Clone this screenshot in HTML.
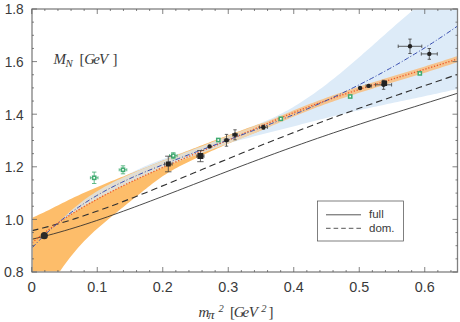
<!DOCTYPE html>
<html lang="en">
<head>
<meta charset="utf-8">
<title>Nucleon mass vs pion mass squared</title>
<style>
html,body{margin:0;padding:0;background:#fff;}
body{width:460px;height:322px;overflow:hidden;}
svg{display:block;}
</style>
</head>
<body>
<svg width="460" height="322" viewBox="0 0 460 322">
<rect width="460" height="322" fill="#fff"/>
<defs><clipPath id="clip"><rect x="32.50" y="9.50" width="424.50" height="262.00"/></clipPath></defs>
<defs><linearGradient id="tg" gradientUnits="userSpaceOnUse" x1="0" y1="0" x2="460" y2="0"><stop offset="0.467" stop-color="#e2ded2"/><stop offset="0.543" stop-color="#f0d3ad"/><stop offset="0.641" stop-color="#f5c48f"/></linearGradient></defs>
<g clip-path="url(#clip)">
<path d="M100.00 189.94 L102.64 188.52 L105.28 187.07 L107.92 185.60 L110.55 184.12 L113.19 182.63 L115.83 181.14 L118.47 179.65 L121.11 178.18 L123.75 176.73 L126.39 175.30 L129.03 173.90 L131.66 172.54 L134.30 171.21 L136.94 169.92 L139.58 168.67 L142.22 167.46 L144.86 166.28 L147.50 165.14 L150.13 164.03 L152.77 162.95 L155.41 161.91 L158.05 160.89 L160.69 159.91 L163.33 158.96 L165.97 158.03 L168.61 157.12 L171.24 156.22 L173.88 155.34 L176.52 154.46 L179.16 153.59 L181.80 152.71 L184.44 151.83 L187.08 150.93 L189.71 150.02 L192.35 149.08 L194.99 148.13 L197.63 147.15 L200.27 146.15 L202.91 145.14 L205.55 144.12 L208.18 143.09 L210.82 142.05 L213.46 141.01 L216.10 139.97 L218.74 138.94 L221.38 137.91 L224.02 136.89 L226.66 135.88 L229.29 134.89 L231.93 133.91 L234.57 132.93 L237.21 131.96 L239.85 130.99 L242.49 130.03 L245.13 129.05 L247.76 128.07 L250.40 127.08 L253.04 126.08 L255.68 125.06 L258.32 124.02 L260.96 122.95 L263.60 121.86 L266.24 120.75 L268.87 119.60 L271.51 118.41 L274.15 117.19 L276.79 115.92 L279.43 114.62 L282.07 113.26 L284.71 111.86 L287.34 110.42 L289.98 108.93 L292.62 107.39 L295.26 105.82 L297.90 104.20 L300.54 102.54 L303.18 100.85 L305.82 99.11 L308.45 97.34 L311.09 95.52 L313.73 93.68 L316.37 91.79 L319.01 89.87 L321.65 87.92 L324.29 85.93 L326.92 83.92 L329.56 81.87 L332.20 79.79 L334.84 77.68 L337.48 75.55 L340.12 73.39 L342.76 71.21 L345.39 69.01 L348.03 66.79 L350.67 64.54 L353.31 62.29 L355.95 60.01 L358.59 57.72 L361.23 55.42 L363.87 53.11 L366.50 50.79 L369.14 48.46 L371.78 46.13 L374.42 43.79 L377.06 41.45 L379.70 39.10 L382.34 36.76 L384.97 34.41 L387.61 32.07 L390.25 29.74 L392.89 27.40 L395.53 25.08 L398.17 22.77 L400.81 20.47 L403.45 18.17 L406.08 15.90 L408.72 13.63 L411.36 11.39 L414.00 9.16 L457.50 9.00 L457.50 88.98 L454.50 89.67 L451.49 90.35 L448.49 91.02 L445.48 91.69 L442.48 92.35 L439.47 93.01 L436.47 93.67 L433.47 94.32 L430.46 94.96 L427.46 95.61 L424.45 96.25 L421.45 96.88 L418.45 97.52 L415.44 98.15 L412.44 98.79 L409.43 99.42 L406.43 100.05 L403.42 100.68 L400.42 101.32 L397.42 101.95 L394.41 102.58 L391.41 103.22 L388.40 103.85 L385.40 104.49 L382.39 105.14 L379.39 105.78 L376.39 106.43 L373.38 107.08 L370.38 107.74 L367.37 108.40 L364.37 109.07 L361.37 109.74 L358.36 110.42 L355.36 111.10 L352.35 111.79 L349.35 112.49 L346.34 113.20 L343.34 113.91 L340.34 114.63 L337.33 115.35 L334.33 116.08 L331.32 116.81 L328.32 117.55 L325.32 118.29 L322.31 119.04 L319.31 119.79 L316.30 120.55 L313.30 121.31 L310.29 122.07 L307.29 122.83 L304.29 123.59 L301.28 124.36 L298.28 125.13 L295.27 125.90 L292.27 126.67 L289.26 127.44 L286.26 128.21 L283.26 128.98 L280.25 129.75 L277.25 130.52 L274.24 131.28 L271.24 132.05 L268.24 132.81 L265.23 133.58 L262.23 134.33 L259.22 135.10 L256.22 135.86 L253.21 136.62 L250.21 137.40 L247.21 138.18 L244.20 138.97 L241.20 139.78 L238.19 140.60 L235.19 141.44 L232.18 142.29 L229.18 143.17 L226.18 144.07 L223.17 144.99 L220.17 145.93 L217.16 146.89 L214.16 147.87 L211.16 148.86 L208.15 149.88 L205.15 150.91 L202.14 151.97 L199.14 153.04 L196.13 154.12 L193.13 155.22 L190.13 156.34 L187.12 157.48 L184.12 158.63 L181.11 159.79 L178.11 160.97 L175.11 162.16 L172.10 163.37 L169.10 164.59 L166.09 165.82 L163.09 167.06 L160.08 168.32 L157.08 169.58 L154.08 170.86 L151.07 172.15 L148.07 173.45 L145.06 174.76 L142.06 176.07 L139.05 177.40 L136.05 178.73 L133.05 180.08 L130.04 181.43 L127.04 182.79 L124.03 184.15 L121.03 185.52 L118.03 186.90 L115.02 188.28 L112.02 189.67 L109.01 191.06 L106.01 192.45 L103.00 193.85 L100.00 195.26 Z" fill="#ddebf8"/>
<path d="M32.10 217.75 L34.44 216.73 L36.77 215.69 L39.11 214.62 L41.45 213.52 L43.79 212.41 L46.12 211.28 L48.46 210.13 L50.80 208.97 L53.14 207.80 L55.47 206.62 L57.81 205.44 L60.15 204.26 L62.49 203.08 L64.82 201.90 L67.16 200.74 L69.50 199.58 L71.84 198.44 L74.17 197.32 L76.51 196.21 L78.85 195.13 L81.18 194.05 L83.52 193.00 L85.86 191.95 L88.20 190.92 L90.53 189.91 L92.87 188.90 L95.21 187.90 L97.55 186.91 L99.88 185.93 L102.22 184.96 L104.56 183.99 L106.90 183.02 L109.23 182.07 L111.57 181.11 L113.91 180.16 L116.25 179.22 L118.58 178.28 L120.92 177.34 L123.26 176.41 L125.59 175.47 L127.93 174.54 L130.27 173.61 L132.61 172.69 L134.94 171.76 L137.28 170.83 L139.62 169.91 L141.96 168.98 L144.29 168.05 L146.63 167.13 L148.97 166.20 L151.31 165.27 L153.64 164.34 L155.98 163.41 L158.32 162.48 L160.66 161.55 L162.99 160.62 L165.33 159.69 L167.67 158.76 L170.01 157.83 L172.34 156.90 L174.68 155.97 L177.02 155.04 L179.35 154.12 L181.69 153.19 L184.03 152.27 L186.37 151.35 L188.70 150.42 L191.04 149.51 L193.38 148.59 L195.72 147.67 L198.05 146.76 L200.39 145.85 L202.73 144.94 L205.07 144.04 L207.40 143.14 L209.74 142.24 L212.08 141.34 L214.42 140.45 L216.75 139.56 L219.09 138.67 L221.43 137.79 L223.76 136.91 L226.10 136.04 L228.44 135.16 L230.78 134.30 L233.11 133.44 L235.45 132.58 L237.79 131.72 L240.13 130.88 L242.46 130.03 L244.80 129.19 L247.14 128.36 L249.48 127.53 L251.81 126.71 L254.15 125.90 L256.49 125.08 L258.83 124.28 L261.16 123.48 L263.50 122.69 L263.50 129.55 L261.44 130.32 L259.38 131.09 L257.32 131.88 L255.26 132.67 L253.20 133.46 L251.14 134.27 L249.08 135.08 L247.02 135.90 L244.95 136.72 L242.89 137.55 L240.83 138.39 L238.77 139.24 L236.71 140.09 L234.65 140.95 L232.59 141.82 L230.53 142.69 L228.47 143.57 L226.41 144.45 L224.35 145.35 L222.29 146.24 L220.23 147.15 L218.17 148.06 L216.11 148.98 L214.05 149.90 L211.98 150.83 L209.92 151.76 L207.86 152.70 L205.80 153.65 L203.74 154.60 L201.68 155.56 L199.62 156.52 L197.56 157.49 L195.50 158.47 L193.44 159.45 L191.38 160.43 L189.32 161.43 L187.26 162.43 L185.20 163.44 L183.14 164.47 L181.08 165.52 L179.02 166.59 L176.95 167.68 L174.89 168.80 L172.83 169.96 L170.77 171.14 L168.71 172.37 L166.65 173.63 L164.59 174.94 L162.53 176.29 L160.47 177.69 L158.41 179.15 L156.35 180.65 L154.29 182.19 L152.23 183.77 L150.17 185.38 L148.11 187.01 L146.05 188.66 L143.98 190.31 L141.92 191.97 L139.86 193.63 L137.80 195.29 L135.74 196.95 L133.68 198.61 L131.62 200.27 L129.56 201.94 L127.50 203.60 L125.44 205.27 L123.38 206.94 L121.32 208.61 L119.26 210.29 L117.20 211.97 L115.14 213.65 L113.08 215.33 L111.02 217.02 L108.95 218.72 L106.89 220.42 L104.83 222.15 L102.77 223.88 L100.71 225.65 L98.65 227.44 L96.59 229.26 L94.53 231.12 L92.47 233.02 L90.41 234.97 L88.35 236.96 L86.29 239.01 L84.23 241.12 L82.17 243.28 L80.11 245.52 L78.05 247.82 L75.98 250.20 L73.92 252.65 L71.86 255.18 L69.80 257.79 L67.74 260.48 L65.68 263.25 L63.62 266.12 L61.56 269.07 L59.50 272.12 L32.10 272.00 Z" fill="#fdbd6a"/>
<path d="M60.00 221.37 L62.50 218.80 L65.00 216.31 L67.50 213.91 L70.00 211.60 L72.50 209.37 L75.00 207.22 L77.50 205.15 L80.00 203.15 L82.50 201.22 L85.00 199.36 L87.50 197.57 L90.00 195.83 L92.50 194.16 L95.00 192.55 L97.50 190.99 L100.00 189.48 L102.50 188.02 L105.00 186.61 L107.50 185.23 L110.00 183.90 L112.50 182.61 L115.00 181.35 L117.50 180.12 L120.00 178.93 L122.50 177.75 L125.00 176.61 L127.50 175.48 L130.00 174.37 L132.50 173.27 L135.00 172.19 L137.50 171.12 L140.00 170.07 L142.50 169.02 L145.00 167.99 L147.50 166.97 L150.00 165.96 L152.50 164.96 L155.00 163.97 L157.50 162.99 L160.00 162.01 L162.50 161.04 L165.00 160.08 L167.50 159.12 L170.00 158.17 L172.50 157.22 L175.00 156.27 L177.50 155.33 L180.00 154.39 L182.50 153.45 L185.00 152.52 L187.50 151.58 L190.00 150.64 L192.50 149.71 L195.00 148.77 L197.50 147.82 L200.00 146.88 L202.50 145.93 L205.00 144.98 L207.50 144.02 L210.00 143.06 L212.50 142.09 L215.00 141.12 L217.50 140.15 L220.00 139.18 L222.50 138.21 L225.00 137.24 L227.50 136.28 L230.00 135.32 L232.50 134.36 L235.00 133.41 L237.50 132.47 L240.00 131.54 L242.50 130.61 L245.00 129.69 L247.50 128.78 L250.00 127.86 L252.50 126.95 L255.00 126.02 L257.50 125.09 L260.00 124.15 L262.50 123.20 L265.00 122.23 L267.50 121.24 L270.00 120.23 L272.50 119.22 L275.00 118.19 L277.50 117.15 L280.00 116.11 L282.50 115.06 L285.00 114.01 L287.50 112.96 L290.00 111.92 L292.50 110.87 L295.00 109.84 L297.50 108.81 L300.00 107.79 L302.50 106.78 L305.00 105.79 L307.50 104.81 L310.00 103.84 L312.50 102.88 L315.00 101.93 L317.50 100.99 L320.00 100.07 L322.50 99.15 L325.00 98.24 L327.50 97.35 L330.00 96.46 L332.50 95.58 L335.00 94.71 L337.50 93.84 L340.00 92.99 L342.50 92.14 L345.00 91.30 L347.50 90.47 L350.00 89.64 L352.50 88.82 L355.00 88.01 L357.50 87.20 L360.00 86.39 L362.50 85.60 L365.00 84.80 L367.50 84.01 L370.00 83.23 L372.50 82.45 L375.00 81.67 L377.50 80.90 L380.00 80.13 L382.50 79.36 L385.00 78.59 L387.50 77.83 L390.00 77.07 L392.50 76.31 L395.00 75.55 L397.50 74.79 L400.00 74.03 L402.50 73.27 L405.00 72.51 L407.50 71.75 L410.00 70.99 L412.50 70.23 L415.00 69.47 L417.50 68.70 L420.00 67.94 L422.50 67.17 L425.00 66.40 L427.50 65.62 L430.00 64.85 L432.50 64.07 L435.00 63.28 L437.50 62.49 L440.00 61.70 L442.50 60.90 L445.00 60.10 L447.50 59.29 L450.00 58.47 L452.50 57.65 L455.00 56.83 L457.50 55.99 L457.50 62.15 L455.00 63.00 L452.50 63.84 L450.00 64.67 L447.50 65.49 L445.00 66.31 L442.50 67.12 L440.00 67.93 L437.50 68.73 L435.00 69.52 L432.50 70.31 L430.00 71.10 L427.50 71.88 L425.00 72.65 L422.50 73.42 L420.00 74.19 L417.50 74.96 L415.00 75.72 L412.50 76.48 L410.00 77.24 L407.50 78.00 L405.00 78.76 L402.50 79.51 L400.00 80.27 L397.50 81.02 L395.00 81.78 L392.50 82.53 L390.00 83.29 L387.50 84.04 L385.00 84.80 L382.50 85.56 L380.00 86.33 L377.50 87.09 L375.00 87.86 L372.50 88.63 L370.00 89.40 L367.50 90.18 L365.00 90.96 L362.50 91.75 L360.00 92.54 L357.50 93.34 L355.00 94.14 L352.50 94.95 L350.00 95.77 L347.50 96.59 L345.00 97.42 L342.50 98.25 L340.00 99.10 L337.50 99.95 L335.00 100.81 L332.50 101.68 L330.00 102.55 L327.50 103.44 L325.00 104.34 L322.50 105.24 L320.00 106.16 L317.50 107.09 L315.00 108.03 L312.50 108.98 L310.00 109.94 L307.50 110.92 L305.00 111.90 L302.50 112.90 L300.00 113.91 L297.50 114.94 L295.00 115.98 L292.50 117.03 L290.00 118.08 L287.50 119.15 L285.00 120.22 L282.50 121.29 L280.00 122.37 L277.50 123.45 L275.00 124.53 L272.50 125.60 L270.00 126.68 L267.50 127.74 L265.00 128.81 L262.50 129.86 L260.00 130.90 L257.50 131.94 L255.00 132.97 L252.50 133.99 L250.00 135.00 L247.50 136.00 L245.00 136.99 L242.50 137.98 L240.00 138.96 L237.50 139.93 L235.00 140.89 L232.50 141.85 L230.00 142.79 L227.50 143.73 L225.00 144.67 L222.50 145.59 L220.00 146.51 L217.50 147.43 L215.00 148.33 L212.50 149.23 L210.00 150.13 L207.50 151.01 L205.00 151.89 L202.50 152.77 L200.00 153.64 L197.50 154.51 L195.00 155.38 L192.50 156.26 L190.00 157.14 L187.50 158.02 L185.00 158.92 L182.50 159.82 L180.00 160.74 L177.50 161.67 L175.00 162.61 L172.50 163.58 L170.00 164.56 L167.50 165.57 L165.00 166.60 L162.50 167.64 L160.00 168.71 L157.50 169.79 L155.00 170.89 L152.50 172.00 L150.00 173.13 L147.50 174.27 L145.00 175.42 L142.50 176.58 L140.00 177.75 L137.50 178.93 L135.00 180.11 L132.50 181.30 L130.00 182.49 L127.50 183.68 L125.00 184.88 L122.50 186.08 L120.00 187.29 L117.50 188.51 L115.00 189.73 L112.50 190.97 L110.00 192.22 L107.50 193.48 L105.00 194.76 L102.50 196.05 L100.00 197.36 L97.50 198.69 L95.00 200.04 L92.50 201.42 L90.00 202.81 L87.50 204.23 L85.00 205.67 L82.50 207.14 L80.00 208.64 L77.50 210.17 L75.00 211.73 L72.50 213.33 L70.00 214.96 L67.50 216.62 L65.00 218.32 L62.50 220.05 L60.00 221.83 Z" fill="url(#tg)"/>
<path d="M32.00 239.22 L37.39 237.97 L42.77 236.65 L48.16 235.27 L53.54 233.83 L58.93 232.33 L64.32 230.78 L69.70 229.19 L75.09 227.54 L80.47 225.86 L85.86 224.13 L91.25 222.36 L96.63 220.56 L102.02 218.73 L107.41 216.86 L112.79 214.96 L118.18 213.04 L123.56 211.09 L128.95 209.12 L134.34 207.13 L139.72 205.12 L145.11 203.10 L150.49 201.06 L155.88 199.01 L161.27 196.95 L166.65 194.88 L172.04 192.80 L177.42 190.72 L182.81 188.63 L188.20 186.54 L193.58 184.45 L198.97 182.36 L204.35 180.27 L209.74 178.18 L215.13 176.10 L220.51 174.02 L225.90 171.95 L231.28 169.88 L236.67 167.83 L242.06 165.78 L247.44 163.74 L252.83 161.71 L258.22 159.69 L263.60 157.68 L268.99 155.69 L274.37 153.71 L279.76 151.74 L285.15 149.78 L290.53 147.84 L295.92 145.91 L301.30 144.00 L306.69 142.10 L312.08 140.21 L317.46 138.34 L322.85 136.49 L328.23 134.64 L333.62 132.81 L339.01 131.00 L344.39 129.20 L349.78 127.41 L355.16 125.63 L360.55 123.87 L365.94 122.12 L371.32 120.38 L376.71 118.65 L382.09 116.92 L387.48 115.21 L392.87 113.51 L398.25 111.81 L403.64 110.12 L409.03 108.43 L414.41 106.75 L419.80 105.07 L425.18 103.39 L430.57 101.71 L435.96 100.03 L441.34 98.34 L446.73 96.66 L452.11 94.96 L457.50 93.26" fill="none" stroke="#2a2a2a" stroke-width="0.85"/>
<path d="M32.00 230.63 L37.39 229.36 L42.77 228.02 L48.16 226.61 L53.54 225.13 L58.93 223.60 L64.32 222.00 L69.70 220.34 L75.09 218.64 L80.47 216.88 L85.86 215.08 L91.25 213.23 L96.63 211.34 L102.02 209.41 L107.41 207.45 L112.79 205.45 L118.18 203.42 L123.56 201.36 L128.95 199.28 L134.34 197.17 L139.72 195.05 L145.11 192.90 L150.49 190.73 L155.88 188.55 L161.27 186.36 L166.65 184.16 L172.04 181.94 L177.42 179.72 L182.81 177.50 L188.20 175.27 L193.58 173.03 L198.97 170.80 L204.35 168.56 L209.74 166.33 L215.13 164.10 L220.51 161.87 L225.90 159.65 L231.28 157.44 L236.67 155.23 L242.06 153.03 L247.44 150.84 L252.83 148.66 L258.22 146.49 L263.60 144.33 L268.99 142.19 L274.37 140.06 L279.76 137.94 L285.15 135.83 L290.53 133.74 L295.92 131.66 L301.30 129.60 L306.69 127.55 L312.08 125.51 L317.46 123.49 L322.85 121.48 L328.23 119.49 L333.62 117.51 L339.01 115.55 L344.39 113.60 L349.78 111.66 L355.16 109.74 L360.55 107.82 L365.94 105.92 L371.32 104.03 L376.71 102.15 L382.09 100.28 L387.48 98.41 L392.87 96.56 L398.25 94.71 L403.64 92.86 L409.03 91.02 L414.41 89.18 L419.80 87.34 L425.18 85.51 L430.57 83.67 L435.96 81.83 L441.34 79.98 L446.73 78.13 L452.11 76.27 L457.50 74.40" fill="none" stroke="#303030" stroke-width="1.12" stroke-dasharray="6.5 4"/>
<path d="M32.10 242.75 L35.67 239.74 L39.25 236.83 L42.82 234.01 L46.40 231.28 L49.97 228.63 L53.55 226.05 L57.12 223.55 L60.70 221.12 L64.27 218.75 L67.85 216.45 L71.42 214.19 L75.00 211.99 L78.57 209.83 L82.15 207.72 L85.72 205.64 L89.30 203.59 L92.87 201.58 L96.45 199.60 L100.02 197.65 L103.60 195.73 L107.17 193.84 L110.75 191.98 L114.32 190.14 L117.89 188.33 L121.47 186.55 L125.04 184.79 L128.62 183.05 L132.19 181.33 L135.77 179.64 L139.34 177.97 L142.92 176.31 L146.49 174.68 L150.07 173.06 L153.64 171.47 L157.22 169.88 L160.79 168.31 L164.37 166.76 L167.94 165.22 L171.52 163.69 L175.09 162.17 L178.67 160.66 L182.24 159.16 L185.82 157.67 L189.39 156.18 L192.97 154.70 L196.54 153.22 L200.12 151.75 L203.69 150.27 L207.26 148.80 L210.84 147.32 L214.41 145.85 L217.99 144.37 L221.56 142.88 L225.14 141.39 L228.71 139.89 L232.29 138.39 L235.86 136.88 L239.44 135.36 L243.01 133.84 L246.59 132.31 L250.16 130.78 L253.74 129.26 L257.31 127.73 L260.89 126.21 L264.46 124.69 L268.04 123.18 L271.61 121.67 L275.19 120.17 L278.76 118.69 L282.34 117.21 L285.91 115.75 L289.48 114.30 L293.06 112.87 L296.63 111.46 L300.21 110.06 L303.78 108.69 L307.36 107.33 L310.93 105.99 L314.51 104.68 L318.08 103.37 L321.66 102.09 L325.23 100.82 L328.81 99.57 L332.38 98.33 L335.96 97.11 L339.53 95.90 L343.11 94.70 L346.68 93.51 L350.26 92.34 L353.83 91.18 L357.41 90.02 L360.98 88.88 L364.56 87.74 L368.13 86.61 L371.71 85.49 L375.28 84.38 L378.85 83.27 L382.43 82.17 L386.00 81.07 L389.58 79.98 L393.15 78.88 L396.73 77.80 L400.30 76.71 L403.88 75.62 L407.45 74.54 L411.03 73.45 L414.60 72.36 L418.18 71.28 L421.75 70.18 L425.33 69.09 L428.90 67.99 L432.48 66.89 L436.05 65.78 L439.63 64.67 L443.20 63.55 L446.78 62.43 L450.35 61.29 L453.93 60.15 L457.50 59.00" fill="none" stroke="#ee5a2a" stroke-width="1.3" stroke-dasharray="1.3 1.7"/>
<path d="M32.10 247.83 L35.67 244.03 L39.25 240.35 L42.82 236.80 L46.40 233.37 L49.97 230.05 L53.55 226.84 L57.12 223.73 L60.70 220.74 L64.27 217.84 L67.85 215.04 L71.42 212.34 L75.00 209.72 L78.57 207.20 L82.15 204.76 L85.72 202.39 L89.30 200.11 L92.87 197.90 L96.45 195.76 L100.02 193.69 L103.60 191.69 L107.17 189.74 L110.75 187.85 L114.32 186.02 L117.89 184.23 L121.47 182.49 L125.04 180.80 L128.62 179.15 L132.19 177.53 L135.77 175.95 L139.34 174.40 L142.92 172.88 L146.49 171.38 L150.07 169.90 L153.64 168.44 L157.22 166.99 L160.79 165.55 L164.37 164.13 L167.94 162.72 L171.52 161.31 L175.09 159.92 L178.67 158.54 L182.24 157.17 L185.82 155.80 L189.39 154.44 L192.97 153.09 L196.54 151.74 L200.12 150.40 L203.69 149.06 L207.26 147.72 L210.84 146.39 L214.41 145.06 L217.99 143.73 L221.56 142.41 L225.14 141.08 L228.71 139.75 L232.29 138.42 L235.86 137.09 L239.44 135.75 L243.01 134.41 L246.59 133.07 L250.16 131.72 L253.74 130.37 L257.31 129.01 L260.89 127.64 L264.46 126.26 L268.04 124.88 L271.61 123.49 L275.19 122.08 L278.76 120.67 L282.34 119.24 L285.91 117.81 L289.48 116.36 L293.06 114.89 L296.63 113.41 L300.21 111.92 L303.78 110.41 L307.36 108.89 L310.93 107.34 L314.51 105.79 L318.08 104.21 L321.66 102.62 L325.23 101.01 L328.81 99.38 L332.38 97.73 L335.96 96.07 L339.53 94.39 L343.11 92.68 L346.68 90.96 L350.26 89.22 L353.83 87.45 L357.41 85.67 L360.98 83.87 L364.56 82.04 L368.13 80.19 L371.71 78.33 L375.28 76.43 L378.85 74.52 L382.43 72.58 L386.00 70.62 L389.58 68.64 L393.15 66.63 L396.73 64.60 L400.30 62.55 L403.88 60.47 L407.45 58.36 L411.03 56.23 L414.60 54.07 L418.18 51.89 L421.75 49.68 L425.33 47.44 L428.90 45.18 L432.48 42.89 L436.05 40.57 L439.63 38.23 L443.20 35.85 L446.78 33.45 L450.35 31.01 L453.93 28.55 L457.50 26.06" fill="none" stroke="#3a4fb0" stroke-width="1.0" stroke-dasharray="5 2 1 2"/>
<path d="M94.20 172.10 V183.50 M92.00 172.10 h4.4 M92.00 183.50 h4.4 M90.40 177.80 h7.6 M90.40 176.30 v3 M98.00 176.30 v3" stroke="#3fab70" stroke-width="0.8" fill="none"/>
<rect x="92.60" y="176.20" width="3.2" height="3.2" fill="#fff" stroke="#3fab70" stroke-width="1.5"/>
<path d="M123.00 165.80 V173.80 M120.80 165.80 h4.4 M120.80 173.80 h4.4 M119.20 169.80 h7.6 M119.20 168.30 v3 M126.80 168.30 v3" stroke="#3fab70" stroke-width="0.8" fill="none"/>
<rect x="121.40" y="168.20" width="3.2" height="3.2" fill="#fff" stroke="#3fab70" stroke-width="1.5"/>
<path d="M173.30 152.70 V158.70 M171.10 152.70 h4.4 M171.10 158.70 h4.4 M169.50 155.70 h7.6 M169.50 154.20 v3 M177.10 154.20 v3" stroke="#3fab70" stroke-width="0.8" fill="none"/>
<rect x="171.70" y="154.10" width="3.2" height="3.2" fill="#fff" stroke="#3fab70" stroke-width="1.5"/>
<rect x="216.70" y="138.40" width="3.2" height="3.2" fill="#fff" stroke="#3fab70" stroke-width="1.5"/>
<rect x="279.20" y="117.20" width="3.2" height="3.2" fill="#fff" stroke="#3fab70" stroke-width="1.5"/>
<rect x="348.60" y="94.90" width="3.2" height="3.2" fill="#fff" stroke="#3fab70" stroke-width="1.5"/>
<rect x="418.20" y="71.80" width="3.2" height="3.2" fill="#fff" stroke="#3fab70" stroke-width="1.5"/>
<circle cx="209.60" cy="146.40" r="2.2" fill="#222"/>
<path d="M226.50 134.40 V146.20 M224.80 134.40 h3.4 M224.80 146.20 h3.4 M224.30 140.30 H228.70 M224.30 138.60 v3.4 M228.70 138.60 v3.4 " stroke="#3c3c3c" stroke-width="0.8" fill="none"/>
<circle cx="226.50" cy="140.30" r="2.2" fill="#222"/>
<path d="M235.00 129.80 V139.80 M233.30 129.80 h3.4 M233.30 139.80 h3.4 M232.60 134.80 H237.40 M232.60 133.10 v3.4 M237.40 133.10 v3.4 " stroke="#3c3c3c" stroke-width="0.8" fill="none"/>
<circle cx="235.00" cy="134.80" r="2.2" fill="#222"/>
<path d="M263.40 125.20 V129.20 M261.70 125.20 h3.4 M261.70 129.20 h3.4 M259.40 127.20 H267.40 M259.40 125.50 v3.4 M267.40 125.50 v3.4 " stroke="#3c3c3c" stroke-width="0.8" fill="none"/>
<circle cx="263.40" cy="127.20" r="2.2" fill="#222"/>
<circle cx="360.10" cy="88.00" r="2.2" fill="#222"/>
<path d="M366.10 85.90 H371.30 M366.10 84.20 v3.4 M371.30 84.20 v3.4 " stroke="#3c3c3c" stroke-width="0.8" fill="none"/>
<circle cx="368.70" cy="85.90" r="2.2" fill="#222"/>
<path d="M383.60 80.30 V89.30 M381.90 80.30 h3.4 M381.90 89.30 h3.4 M375.60 84.80 H391.60 M375.60 83.10 v3.4 M391.60 83.10 v3.4 " stroke="#3c3c3c" stroke-width="0.8" fill="none"/>
<circle cx="383.60" cy="84.80" r="2.2" fill="#222"/>
<path d="M410.00 39.10 V53.50 M408.30 39.10 h3.4 M408.30 53.50 h3.4 M398.20 46.30 H421.80 M398.20 44.60 v3.4 M421.80 44.60 v3.4 " stroke="#3c3c3c" stroke-width="0.8" fill="none"/>
<circle cx="410.00" cy="46.30" r="2.2" fill="#222"/>
<path d="M429.30 48.50 V59.30 M427.60 48.50 h3.4 M427.60 59.30 h3.4 M421.30 53.90 H437.30 M421.30 52.20 v3.4 M437.30 52.20 v3.4 " stroke="#3c3c3c" stroke-width="0.8" fill="none"/>
<circle cx="429.30" cy="53.90" r="2.2" fill="#222"/>
<path d="M168.30 156.20 V171.80 M165.10 156.20 h6.4 M165.10 171.80 h6.4 M164.50 164.00 H172.10 M164.50 162.30 v3.4 M172.10 162.30 v3.4 " stroke="#3c3c3c" stroke-width="0.8" fill="none"/>
<rect x="165.80" y="161.50" width="5.00" height="5.00" rx="0.6" fill="#222"/>
<path d="M200.40 150.50 V161.70 M197.20 150.50 h6.4 M197.20 161.70 h6.4 M196.80 156.10 H204.00 M196.80 154.40 v3.4 M204.00 154.40 v3.4 " stroke="#3c3c3c" stroke-width="0.8" fill="none"/>
<rect x="197.40" y="153.10" width="6.00" height="6.00" rx="0.6" fill="#222"/>
<rect x="381.50" y="80.40" width="5.60" height="5.60" rx="0.6" fill="#222"/>
<circle cx="44.3" cy="235.7" r="3.6" fill="#2a2a2a"/>
</g>
<rect x="32.00" y="9.00" width="425.50" height="263.00" fill="none" stroke="#808080" stroke-width="1.3"/>
<path d="M31.75 272.00 v-5.00 M31.75 9.00 v5.00 M44.85 272.00 v-2.00 M44.85 9.00 v2.00 M57.95 272.00 v-2.00 M57.95 9.00 v2.00 M71.05 272.00 v-2.00 M71.05 9.00 v2.00 M84.15 272.00 v-2.00 M84.15 9.00 v2.00 M97.25 272.00 v-5.00 M97.25 9.00 v5.00 M110.35 272.00 v-2.00 M110.35 9.00 v2.00 M123.45 272.00 v-2.00 M123.45 9.00 v2.00 M136.55 272.00 v-2.00 M136.55 9.00 v2.00 M149.65 272.00 v-2.00 M149.65 9.00 v2.00 M162.75 272.00 v-5.00 M162.75 9.00 v5.00 M175.85 272.00 v-2.00 M175.85 9.00 v2.00 M188.95 272.00 v-2.00 M188.95 9.00 v2.00 M202.05 272.00 v-2.00 M202.05 9.00 v2.00 M215.15 272.00 v-2.00 M215.15 9.00 v2.00 M228.25 272.00 v-5.00 M228.25 9.00 v5.00 M241.35 272.00 v-2.00 M241.35 9.00 v2.00 M254.45 272.00 v-2.00 M254.45 9.00 v2.00 M267.55 272.00 v-2.00 M267.55 9.00 v2.00 M280.65 272.00 v-2.00 M280.65 9.00 v2.00 M293.75 272.00 v-5.00 M293.75 9.00 v5.00 M306.85 272.00 v-2.00 M306.85 9.00 v2.00 M319.95 272.00 v-2.00 M319.95 9.00 v2.00 M333.05 272.00 v-2.00 M333.05 9.00 v2.00 M346.15 272.00 v-2.00 M346.15 9.00 v2.00 M359.25 272.00 v-5.00 M359.25 9.00 v5.00 M372.35 272.00 v-2.00 M372.35 9.00 v2.00 M385.45 272.00 v-2.00 M385.45 9.00 v2.00 M398.55 272.00 v-2.00 M398.55 9.00 v2.00 M411.65 272.00 v-2.00 M411.65 9.00 v2.00 M424.75 272.00 v-5.00 M424.75 9.00 v5.00 M437.85 272.00 v-2.00 M437.85 9.00 v2.00 M450.95 272.00 v-2.00 M450.95 9.00 v2.00 M32.00 272.00 h5.00 M457.50 272.00 h-5.00 M32.00 258.85 h2.00 M457.50 258.85 h-2.00 M32.00 245.70 h2.00 M457.50 245.70 h-2.00 M32.00 232.55 h2.00 M457.50 232.55 h-2.00 M32.00 219.40 h5.00 M457.50 219.40 h-5.00 M32.00 206.25 h2.00 M457.50 206.25 h-2.00 M32.00 193.10 h2.00 M457.50 193.10 h-2.00 M32.00 179.95 h2.00 M457.50 179.95 h-2.00 M32.00 166.80 h5.00 M457.50 166.80 h-5.00 M32.00 153.65 h2.00 M457.50 153.65 h-2.00 M32.00 140.50 h2.00 M457.50 140.50 h-2.00 M32.00 127.35 h2.00 M457.50 127.35 h-2.00 M32.00 114.20 h5.00 M457.50 114.20 h-5.00 M32.00 101.05 h2.00 M457.50 101.05 h-2.00 M32.00 87.90 h2.00 M457.50 87.90 h-2.00 M32.00 74.75 h2.00 M457.50 74.75 h-2.00 M32.00 61.60 h5.00 M457.50 61.60 h-5.00 M32.00 48.45 h2.00 M457.50 48.45 h-2.00 M32.00 35.30 h2.00 M457.50 35.30 h-2.00 M32.00 22.15 h2.00 M457.50 22.15 h-2.00 M32.00 9.00 h5.00 M457.50 9.00 h-5.00 " stroke="#5a5a5a" stroke-width="0.75" fill="none"/>
<g font-family="'Liberation Sans', sans-serif" font-size="14.6" fill="#3a3a3a">
<text x="23.7" y="277.30" text-anchor="end" textLength="19.6" lengthAdjust="spacingAndGlyphs">0.8</text>
<text x="23.7" y="224.70" text-anchor="end" textLength="19.0" lengthAdjust="spacingAndGlyphs">1.0</text>
<text x="23.7" y="172.10" text-anchor="end" textLength="19.0" lengthAdjust="spacingAndGlyphs">1.2</text>
<text x="23.7" y="119.50" text-anchor="end" textLength="19.0" lengthAdjust="spacingAndGlyphs">1.4</text>
<text x="23.7" y="66.90" text-anchor="end" textLength="19.0" lengthAdjust="spacingAndGlyphs">1.6</text>
<text x="23.7" y="14.30" text-anchor="end" textLength="19.0" lengthAdjust="spacingAndGlyphs">1.8</text>
<text x="31.75" y="291.5" text-anchor="middle" textLength="8.4" lengthAdjust="spacingAndGlyphs">0</text>
<text x="97.25" y="291.5" text-anchor="middle" textLength="20.0" lengthAdjust="spacingAndGlyphs">0.1</text>
<text x="162.75" y="291.5" text-anchor="middle" textLength="20.0" lengthAdjust="spacingAndGlyphs">0.2</text>
<text x="228.25" y="291.5" text-anchor="middle" textLength="20.0" lengthAdjust="spacingAndGlyphs">0.3</text>
<text x="293.75" y="291.5" text-anchor="middle" textLength="20.0" lengthAdjust="spacingAndGlyphs">0.4</text>
<text x="359.25" y="291.5" text-anchor="middle" textLength="20.0" lengthAdjust="spacingAndGlyphs">0.5</text>
<text x="424.75" y="291.5" text-anchor="middle" textLength="20.0" lengthAdjust="spacingAndGlyphs">0.6</text>
</g>
<g font-family="'Liberation Serif', serif" font-style="italic" font-size="15" fill="#3a3a3a">
<text y="64.0"><tspan x="53.4">M</tspan><tspan x="65.6" y="66.6" font-size="10.8">N</tspan><tspan x="79.6" y="63.8" font-style="normal">[</tspan><tspan x="84.2">G</tspan><tspan x="93.2">e</tspan><tspan x="99.0">V</tspan><tspan x="112.4" font-style="normal">]</tspan></text>
<text y="317.2"><tspan x="198.4">m</tspan><tspan x="207.7" y="318.8" font-size="13.5">π</tspan><tspan x="218.6" y="312.4" font-size="10.5">2</tspan><tspan x="230.0" y="317.0" font-style="normal">[</tspan><tspan x="233.8">G</tspan><tspan x="242.6">e</tspan><tspan x="248.8">V</tspan><tspan x="261.2" y="312.4" font-size="10.5">2</tspan><tspan x="268.6" y="317.0" font-style="normal">]</tspan></text>
</g>
<rect x="317.5" y="201" width="86" height="40" fill="#fff" stroke="#555" stroke-width="0.75"/>
<path d="M326 214.8 H361" stroke="#444" stroke-width="0.9"/>
<path d="M326 228.3 H361" stroke="#444" stroke-width="0.9" stroke-dasharray="4.6 3"/>
<g font-family="'Liberation Sans', sans-serif" font-size="11.5" fill="#3a3a3a">
<text x="369" y="217.5">full</text>
<text x="369" y="231.5">dom.</text>
</g>
</svg>
</body>
</html>
